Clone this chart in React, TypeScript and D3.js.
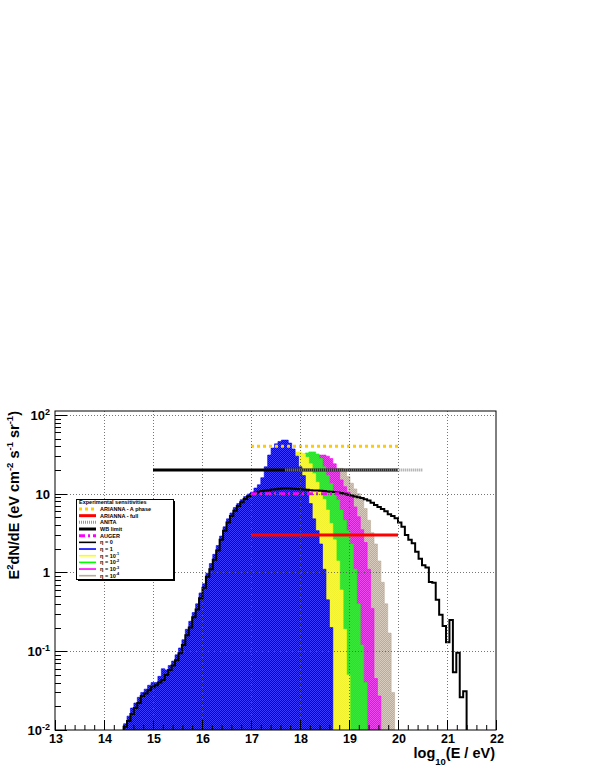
import * as d3 from "d3";
import React, { useRef, useEffect } from "react";

// histogram binning in log10(E/eV)
const binLow = 14.4;
const binWidth = 0.07;

// eta = 0 (black outline), starts at bin 0
const eta0 = [
  0.011, 0.013, 0.016, 0.019, 0.022, 0.027, 0.029, 0.032, 0.035, 0.037,
  0.040, 0.043, 0.050, 0.058, 0.066, 0.077, 0.094, 0.12, 0.16, 0.2,
  0.27, 0.34, 0.47, 0.64, 0.88, 1.1, 1.45, 1.9, 2.6, 3.4,
  4.3, 5.2, 6.1, 7.0, 7.8, 8.6, 9.3, 9.9, 10.3, 10.6,
  10.8, 11.0, 11.1, 11.3, 11.4, 11.6, 11.7, 11.7, 11.7, 11.6,
  11.5, 11.4, 11.3, 11.2, 11.1, 11.0, 11.0, 10.9, 10.8, 10.7,
  10.6, 10.5, 10.4, 10.2, 10.0, 9.7, 9.5, 9.2, 9.0, 8.8,
  8.5, 8.2, 7.7, 7.2, 6.8, 6.4, 6.0, 5.5, 5.2, 4.9,
  4.3, 3.8, 3.0, 2.6, 2.35, 1.84, 1.5, 1.24, 1.16, 0.76,
  0.74, 0.45, 0.29, 0.21, 0.13, 0.25, 0.054, 0.096, 0.026, 0.031,
];

// eta = 1 (blue), starts at bin 0
const eta1 = [
  0.012, 0.015, 0.019, 0.022, 0.026, 0.030, 0.033, 0.037, 0.040, 0.040,
  0.048, 0.060, 0.058, 0.066, 0.075, 0.09, 0.11, 0.14, 0.19, 0.24,
  0.31, 0.40, 0.55, 0.72, 0.98, 1.3, 1.7, 2.2, 2.9, 3.8,
  4.8, 5.7, 6.7, 7.5, 8.4, 9.2, 9.9, 10.5, 11.8, 13,
  16, 22, 31, 38, 43, 46, 48, 48, 44, 37,
  30, 22, 17, 11, 7.5, 4.8, 3.4, 2.3, 1.1, 0.45,
  0.2,
];

// eta = 1e-1 (yellow)
const eta1e1Start = 40;
const eta1e1 = [
  12, 14, 17, 20, 24, 27, 29, 31, 32, 33,
  34, 34, 32, 29, 24, 18, 14, 11, 8.5, 6.2,
  4.2, 2.6, 1.4, 0.6, 0.19, 0.05,
];

// eta = 1e-2 (green)
const eta1e2Start = 44;
const eta1e2 = [
  12, 14, 17, 20, 23, 26, 28, 30, 32, 33,
  34, 34, 32, 28, 22, 17, 13.5, 10.5, 8.3, 6.2,
  4.6, 3.4, 2.3, 1.1, 0.4, 0.12, 0.04,
];

// eta = 1e-3 (magenta)
const eta1e3Start = 48;
const eta1e3 = [
  14, 16, 18, 20, 22, 24, 26, 28, 30, 31,
  31, 30, 28, 24, 19.5, 15, 12.3, 10.5, 9.2, 6.8,
  5.1, 3.5, 2.4, 1.1, 0.35, 0.045, 0.027,
];

// eta = 1e-4 (tan)
const eta1e4Start = 52;
const eta1e4 = [
  10, 11, 12, 13, 14, 15, 16, 17.5, 19, 20,
  21, 21, 19.5, 16.5, 13.6, 11.5, 10, 8.5, 6.5, 4.6,
  3.2, 2.3, 1.4, 0.75, 0.4, 0.17, 0.03,
];

// experimental sensitivities
const sensNames = ["ARIANNA - A phase", "ARIANNA - full", "ANITA", "WB limit", "AUGER"];
const sensLow = [17, 17, 17.7, 15, 17];
const sensHigh = [20, 20, 20.5, 20, 18.8];
const sensLevel = [40, 3, 20, 20, 10];

const xTickLabels = ["13", "14", "15", "16", "17", "18", "19", "20", "21", "22"];
const yTickExps = [2, 1, 0, -1, -2];
const etaLabels = ["0", "1", "-1", "-2", "-3", "-4"];

const font = "'Liberation Sans', Arial, Helvetica, sans-serif";

function App() {
  const ref = useRef<SVGSVGElement>(null);

  useEffect(() => {
    const svg = d3.select(ref.current);
    svg.selectAll("*").remove();

    const left = 55, right = 496, top = 411, bottom = 730;

    const x = d3.scaleLinear().domain([13, 22]).range([left, right]);
    const y = d3.scaleLog().domain([0.01, 112.4]).range([bottom, top]);

    const defs = svg.append("defs");
    defs.append("clipPath").attr("id", "frameClip")
      .append("rect").attr("x", left).attr("y", top)
      .attr("width", right - left).attr("height", bottom - top);

    const fills = [
      { id: "tanFill", base: "#bcab98", dot: "#d8ccbe", start: eta1e4Start, vals: eta1e4 },
      { id: "magFill", base: "#ff00ff", dot: "#f048f0", start: eta1e3Start, vals: eta1e3 },
      { id: "greenFill", base: "#00ff00", dot: "#38e838", start: eta1e2Start, vals: eta1e2 },
      { id: "yellowFill", base: "#ffff00", dot: "#f2f230", start: eta1e1Start, vals: eta1e1 },
      { id: "blueFill", base: "#0000f4", dot: "#3a3aff", start: 0, vals: eta1 },
    ];

    fills.forEach(f => {
      const p = defs.append("pattern").attr("id", f.id)
        .attr("patternUnits", "userSpaceOnUse")
        .attr("width", 2).attr("height", 2);
      p.append("rect").attr("width", 2).attr("height", 2).attr("fill", f.base);
      p.append("rect").attr("width", 1).attr("height", 1).attr("fill", f.dot);
      p.append("rect").attr("x", 1).attr("y", 1).attr("width", 1).attr("height", 1).attr("fill", f.dot);
    });

    const steps = (start: number, vals: number[]) => {
      const pts: [number, number][] = [];
      vals.forEach((v, i) => {
        const lo = binLow + (start + i) * binWidth;
        pts.push([lo, v], [lo + binWidth, v]);
      });
      return pts;
    };

    const area = d3.area<[number, number]>()
      .x(d => x(d[0]))
      .y0(bottom)
      .y1(d => y(d[1]));

    const plot = svg.append("g").attr("clip-path", "url(#frameClip)");

    fills.forEach(f => {
      plot.append("path")
        .attr("d", area(steps(f.start, f.vals)))
        .attr("fill", `url(#${f.id})`)
        .attr("stroke", f.base)
        .attr("stroke-width", 0.6);
    });

    // grid
    const grid = svg.append("g")
      .attr("stroke", "#555")
      .attr("stroke-width", 1)
      .attr("stroke-dasharray", "1 2")
      .attr("opacity", 0.8);
    d3.range(14, 22).forEach(v => {
      grid.append("line")
        .attr("x1", x(v) + 0.5).attr("x2", x(v) + 0.5)
        .attr("y1", top).attr("y2", bottom);
    });
    [100, 10, 1, 0.1].forEach(v => {
      grid.append("line")
        .attr("x1", left).attr("x2", right)
        .attr("y1", Math.round(y(v)) + 0.5).attr("y2", Math.round(y(v)) + 0.5);
    });

    // eta = 0 outline
    const pts0 = steps(0, eta0);
    const first = pts0[0][0];
    const last = pts0[pts0.length - 1][0];
    const outline: [number, number][] = [[first, 0.01], ...pts0, [last, 0.01]];
    const line = d3.line<[number, number]>().x(d => x(d[0])).y(d => y(d[1]));
    plot.append("path")
      .attr("d", line(outline))
      .attr("fill", "none")
      .attr("stroke", "#000")
      .attr("stroke-width", 2);

    // sensitivity lines
    const sensStyle = [
      { color: "#ffcc00", dash: "3 3", width: 3 },
      { color: "#ff0000", dash: null, width: 3 },
      { color: "#999999", dash: "1 1", width: 3 },
      { color: "#000000", dash: null, width: 3 },
      { color: "#ff00ff", dash: "6 3 2 3", width: 3 },
    ];
    const drawOrder = [3, 2, 4, 1, 0];
    drawOrder.forEach(i => {
      plot.append("line")
        .attr("x1", x(sensLow[i])).attr("x2", x(sensHigh[i]))
        .attr("y1", y(sensLevel[i])).attr("y2", y(sensLevel[i]))
        .attr("stroke", sensStyle[i].color)
        .attr("stroke-width", sensStyle[i].width)
        .attr("stroke-dasharray", sensStyle[i].dash);
    });

    // frame
    svg.append("rect")
      .attr("x", left).attr("y", top)
      .attr("width", right - left).attr("height", bottom - top)
      .attr("fill", "none").attr("stroke", "#000").attr("stroke-width", 1);

    // x ticks
    const ax = svg.append("g").attr("stroke", "#000").attr("stroke-width", 1);
    x.ticks(45).forEach(v => {
      const major = Math.abs(v - Math.round(v)) < 1e-6;
      ax.append("line")
        .attr("x1", x(v) + 0.5).attr("x2", x(v) + 0.5)
        .attr("y1", bottom).attr("y2", bottom - (major ? 10 : 5));
    });
    // y ticks
    y.ticks().forEach(v => {
      const major = Math.abs(Math.log10(v) - Math.round(Math.log10(v))) < 1e-6;
      ax.append("line")
        .attr("x1", left).attr("x2", left + (major ? 12 : 6))
        .attr("y1", Math.round(y(v)) + 0.5).attr("y2", Math.round(y(v)) + 0.5);
    });

    // x labels
    svg.append("g").selectAll("text")
      .data(xTickLabels)
      .enter().append("text")
      .attr("x", d => x(+d) + 1)
      .attr("y", 743)
      .attr("text-anchor", "middle")
      .attr("font-family", font)
      .attr("font-weight", "bold")
      .attr("font-size", 12.5)
      .text(d => d);

    // y labels
    yTickExps.forEach(e => {
      const t = svg.append("text")
        .attr("x", 50)
        .attr("y", y(Math.pow(10, e)) + 5)
        .attr("text-anchor", "end")
        .attr("font-family", font)
        .attr("font-weight", "bold")
        .attr("font-size", 13);
      if (e === 0) t.text("1");
      else if (e === 1) t.text("10");
      else {
        t.append("tspan").text("10");
        t.append("tspan").attr("dy", -5).attr("font-size", 9).text(String(e));
      }
    });

    // axis titles
    const xt = svg.append("text")
      .attr("x", 495).attr("y", 758)
      .attr("text-anchor", "end")
      .attr("font-family", font)
      .attr("font-weight", "bold")
      .attr("font-size", 14.5);
    xt.append("tspan").text("log");
    xt.append("tspan").attr("dy", 7).attr("font-size", 9.5).text("10");
    xt.append("tspan").attr("dy", -7).text("(E / eV)");

    const yt = svg.append("text")
      .attr("transform", `translate(19, ${top}) rotate(-90)`)
      .attr("text-anchor", "end")
      .attr("font-family", font)
      .attr("font-weight", "bold")
      .attr("font-size", 14.5);
    const yParts: [string, boolean][] = [
      ["E", false], ["2", true], ["dN/dE (eV cm", false], ["-2", true],
      [" s", false], ["-1", true], [" sr", false], ["-1", true], [")", false],
    ];
    yParts.forEach(([s, sup]) => {
      yt.append("tspan")
        .attr("dy", sup ? -6 : 6)
        .attr("font-size", sup ? 9.5 : 14.5)
        .text(s);
    });
    yt.select("tspan").attr("dy", 0);

    // legend
    const lx = 76, ly = 499, lw = 97, lh = 80;
    const leg = svg.append("g");
    leg.append("rect").attr("x", lx + 2).attr("y", ly + 2)
      .attr("width", lw).attr("height", lh).attr("fill", "#000");
    leg.append("rect").attr("x", lx + 0.5).attr("y", ly + 0.5)
      .attr("width", lw).attr("height", lh)
      .attr("fill", "#fff").attr("stroke", "#000").attr("stroke-width", 1);
    leg.append("text")
      .attr("x", lx + 3).attr("y", ly + 5)
      .attr("font-family", font).attr("font-weight", "bold")
      .attr("font-size", 5.5)
      .text("Experimental sensitivities");

    const etaColors = ["#000000", "#0000ff", "#ffff00", "#00ff00", "#ff00ff", "#bcab98"];
    const rows = [
      ...sensNames.map((n, i) => ({ label: n, eta: false, style: sensStyle[i] })),
      ...etaLabels.map((e, i) => ({
        label: e, eta: true,
        style: { color: etaColors[i], dash: null as string | null, width: 1.6 },
      })),
    ];
    rows.forEach((r, i) => {
      const ry = ly + 10 + i * 6.67;
      leg.append("line")
        .attr("x1", lx + 3).attr("x2", lx + 20)
        .attr("y1", ry).attr("y2", ry)
        .attr("stroke", r.style.color)
        .attr("stroke-width", r.style.width)
        .attr("stroke-dasharray", r.style.dash);
      const t = leg.append("text")
        .attr("x", lx + 24).attr("y", ry + 2)
        .attr("font-family", font).attr("font-weight", "bold")
        .attr("font-size", 5.5);
      if (!r.eta) t.text(r.label);
      else if (r.label === "0" || r.label === "1") t.text(`η = ${r.label}`);
      else {
        t.append("tspan").text("η = 10");
        t.append("tspan").attr("dy", -2.5).attr("font-size", 3.8).text(r.label);
      }
    });
  }, []);

  return (
    <svg ref={ref} width={595} height={770}
      style={{ position: "absolute", left: 0, top: 0, background: "#fff" }} />
  );
}

export default App;
